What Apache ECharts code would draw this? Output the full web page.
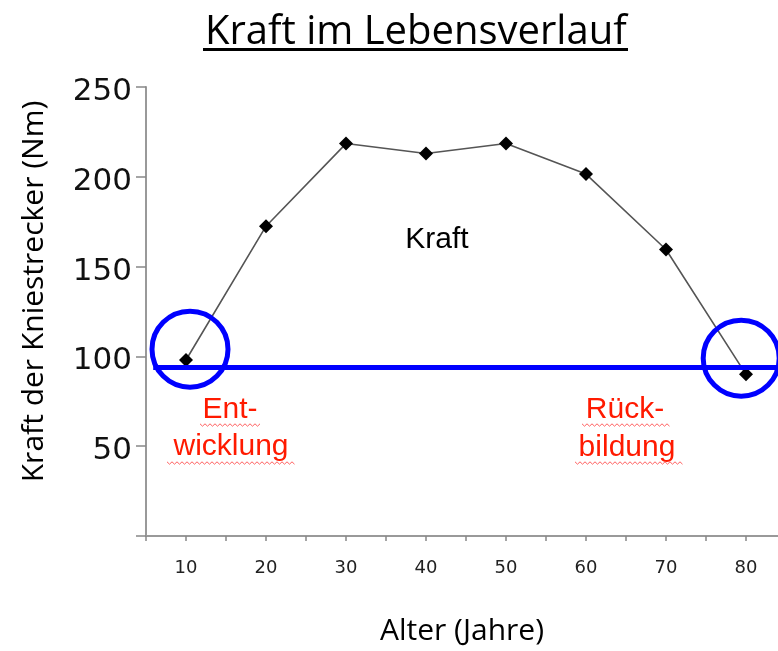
<!DOCTYPE html>
<html>
<head>
<meta charset="utf-8">
<script src="https://cdn.jsdelivr.net/npm/echarts@6/dist/echarts.min.js"></script>
<style>html,body{margin:0;padding:0;background:#fff;}#c{width:778px;height:651px;}</style>
</head>
<body>
<div id="c"></div>
<script>
// Data
const ages = [10, 20, 30, 40, 50, 60, 70, 80];
const kraft = [98, 172.5, 218.5, 213, 218.5, 201.5, 159.5, 90];
const xTickLabels = ['10', '20', '30', '40', '50', '60', '70', '80'];
const yTickLabels = ['50', '100', '150', '200', '250'];
const thresholdValue = 94;
const circleMarks = [[10.5, 104], [79.4, 99]];

const chart = echarts.init(document.getElementById('c'));

function zigzag(x0, x1, y) {
  const pts = [];
  let up = true;
  for (let x = x0; x <= x1; x += 2.5) { pts.push([x, y + (up ? -1.2 : 1.2)]); up = !up; }
  return pts;
}

const redText = { fill: '#ff1a00', font: '30px "Liberation Sans", Arial, sans-serif', textAlign: 'center', textVerticalAlign: 'top' };

chart.setOption({
  animation: false,
  backgroundColor: '#fff',
  title: {
    text: 'Kraft im Lebensverlauf',
    left: 200,
    top: 8,
    textStyle: { fontFamily: 'Open Sans', fontSize: 40, fontWeight: 'normal', color: '#000' }
  },
  grid: { left: 146, right: 0, top: 87, bottom: 113, containLabel: false },
  xAxis: {
    type: 'value',
    min: 5,
    max: 84,
    interval: 5,
    name: 'Alter (Jahre)',
    nameLocation: 'middle',
    nameGap: 80,
    nameTextStyle: { fontFamily: 'Open Sans', fontSize: 30, color: '#000' },
    axisLine: { show: true, onZero: false, lineStyle: { color: '#999', width: 2 } },
    axisTick: { show: true, length: 5, lineStyle: { color: '#888', width: 1.5 } },
    splitLine: { show: false },
    axisLabel: {
      margin: 23,
      fontFamily: 'DejaVu Sans',
      fontSize: 18,
      color: '#222',
      showMaxLabel: false,
      formatter: function (v) { const s = String(v); return xTickLabels.indexOf(s) >= 0 ? s : ''; }
    }
  },
  yAxis: {
    type: 'value',
    min: 0,
    max: 250,
    interval: 50,
    name: 'Kraft der Kniestrecker (Nm)',
    nameLocation: 'middle',
    nameGap: 97,
    nameRotate: 90,
    nameTextStyle: { fontFamily: 'Open Sans', fontSize: 30, color: '#000', padding: [0, 0, 0, 40] },
    axisLine: { show: true, lineStyle: { color: '#999', width: 2 } },
    axisTick: { show: true, length: 10, lineStyle: { color: '#888', width: 1.5 } },
    splitLine: { show: false },
    axisLabel: {
      margin: 14,
      color: '#111',
      formatter: function (v) { const s = String(v); return yTickLabels.indexOf(s) >= 0 ? '{v|' + s + '}' : ''; },
      rich: {
        v: { fontFamily: 'DejaVu Sans', fontSize: 31, color: '#111', padding: [10, 0, 0, 0] }
      }
    }
  },
  series: [
    {
      name: 'Kraft',
      type: 'line',
      data: ages.map((a, i) => [a, kraft[i]]),
      symbol: 'diamond',
      symbolSize: 14,
      lineStyle: { color: '#555', width: 1.6 },
      itemStyle: { color: '#000' },
      z: 3,
      markLine: {
        silent: true,
        symbol: ['none', 'none'],
        label: { show: false },
        lineStyle: { color: '#0000ff', width: 5, type: 'solid', opacity: 1 },
        data: [[{ coord: [5.9, thresholdValue] }, { coord: [84, thresholdValue] }]]
      }
    },
    {
      type: 'scatter',
      data: circleMarks,
      symbol: 'circle',
      symbolSize: 76,
      itemStyle: { color: 'rgba(0,0,0,0)', borderColor: '#0000ff', borderWidth: 5, opacity: 1 },
      silent: true,
      z: 4
    }
  ],
  graphic: [
    { type: 'rect', shape: { x: 203, y: 48, width: 425, height: 3 }, style: { fill: '#000' } },
    { type: 'text', x: 437, y: 225, style: { text: 'Kraft', fill: '#000', font: '30px "Liberation Sans", Arial, sans-serif', textAlign: 'center', textVerticalAlign: 'top' } },
    { type: 'text', x: 230, y: 395, style: Object.assign({ text: 'Ent-' }, redText) },
    { type: 'text', x: 231, y: 432, style: Object.assign({ text: 'wicklung' }, redText) },
    { type: 'text', x: 625, y: 395, style: Object.assign({ text: 'Rück-' }, redText) },
    { type: 'text', x: 627, y: 433, style: Object.assign({ text: 'bildung' }, redText) },
    { type: 'polyline', shape: { points: zigzag(200, 260, 425) }, style: { stroke: '#ff6060', lineWidth: 1, fill: null } },
    { type: 'polyline', shape: { points: zigzag(167, 295, 463) }, style: { stroke: '#ff6060', lineWidth: 1, fill: null } },
    { type: 'polyline', shape: { points: zigzag(582, 670, 425) }, style: { stroke: '#ff6060', lineWidth: 1, fill: null } },
    { type: 'polyline', shape: { points: zigzag(575, 683, 463) }, style: { stroke: '#ff6060', lineWidth: 1, fill: null } }
  ]
});
</script>
</body>
</html>
